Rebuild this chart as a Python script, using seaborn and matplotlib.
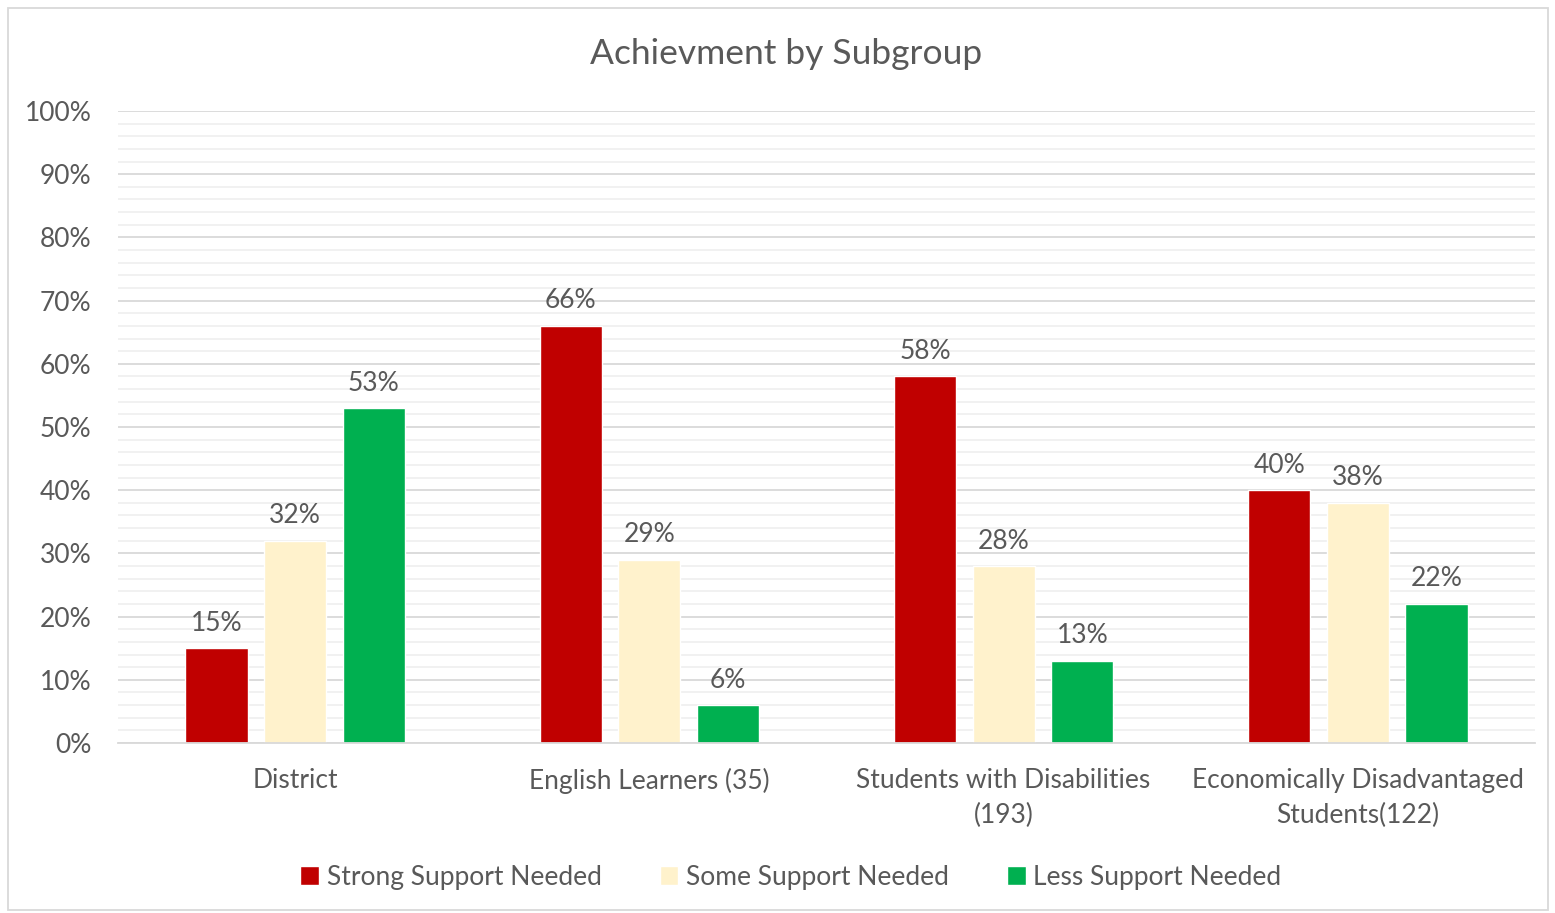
import matplotlib
matplotlib.use("Agg")
import matplotlib.pyplot as plt
import seaborn as sns
import pandas as pd
import numpy as np
from matplotlib.patches import Rectangle
from matplotlib.ticker import MultipleLocator, PercentFormatter

categories = ["District", "English Learners (35)", "Students with Disabilities\n(193)",
              "Economically Disadvantaged\nStudents(122)"]
series = ["Strong Support Needed", "Some Support Needed", "Less Support Needed"]
strong = [15, 66, 58, 40]
some = [32, 29, 28, 38]
less = [53, 6, 13, 22]
colors = ["#C00000", "#FFF2CC", "#00B050"]

rows = []
for s, vals in zip(series, [strong, some, less]):
    for c, v in zip(categories, vals):
        rows.append({"Category": c, "Series": s, "Value": v})
df = pd.DataFrame(rows)

sns.set_theme(style="white")
plt.rcParams['font.family'] = ['Lato', 'DejaVu Sans']
txt = "#595959"
fs = 19

fig = plt.figure(figsize=(15.55, 9.13), dpi=100)
ax = fig.add_axes([118/1555, 1-743/913, (1535-118)/1555, (743-111)/913])

sns.barplot(data=df, x="Category", y="Value", hue="Series", order=categories,
            hue_order=series, palette=colors, width=0.666, gap=0.21,
            saturation=1, ax=ax, legend=True)

ax.set_ylim(0, 100)
ax.set_xlim(-0.5, 3.5)
ax.yaxis.set_major_locator(MultipleLocator(10))
ax.yaxis.set_minor_locator(MultipleLocator(2))
ax.yaxis.set_major_formatter(PercentFormatter(decimals=0))
ax.grid(axis="y", which="major", color="#D9D9D9", linewidth=1.3, zorder=0)
ax.grid(axis="y", which="minor", color="#F0F0F0", linewidth=1.3, zorder=0)
ax.set_axisbelow(True)
for sp in ["top", "right", "left"]:
    ax.spines[sp].set_visible(False)
ax.spines["bottom"].set_color("#D9D9D9")
ax.spines["bottom"].set_linewidth(1.3)
ax.tick_params(axis="both", which="both", length=0, colors=txt, labelsize=fs)
ax.tick_params(axis="y", pad=19)
ax.tick_params(axis="x", pad=18)
for lbl in ax.get_xticklabels():
    lbl.set_linespacing(1.5)
ax.set_xlabel("")
ax.set_ylabel("")

for cont in ax.containers:
    ax.bar_label(cont, labels=[f"{int(round(v))}%" for v in cont.datavalues],
                 padding=9, fontsize=fs, color=txt)

fig.text(786/1555, 1-54/913, "Achievment by Subgroup", fontsize=25.5, color=txt,
         ha="center", va="center")

leg = fig.legend(*ax.get_legend_handles_labels(), loc="center",
                 bbox_to_anchor=(791/1555, 1-877/913), ncol=3, frameon=False,
                 fontsize=fs, handlelength=0.7, handleheight=0.7, handletextpad=0.3,
                 columnspacing=2.2)
ax.get_legend().remove()
for t in leg.get_texts():
    t.set_color(txt)

fig.patches.append(Rectangle((8/1555, 3/913), 1540/1555, 902/913, transform=fig.transFigure,
                             fill=False, edgecolor="#D9D9D9", linewidth=1.3))

fig.savefig("out.png", dpi=100)
